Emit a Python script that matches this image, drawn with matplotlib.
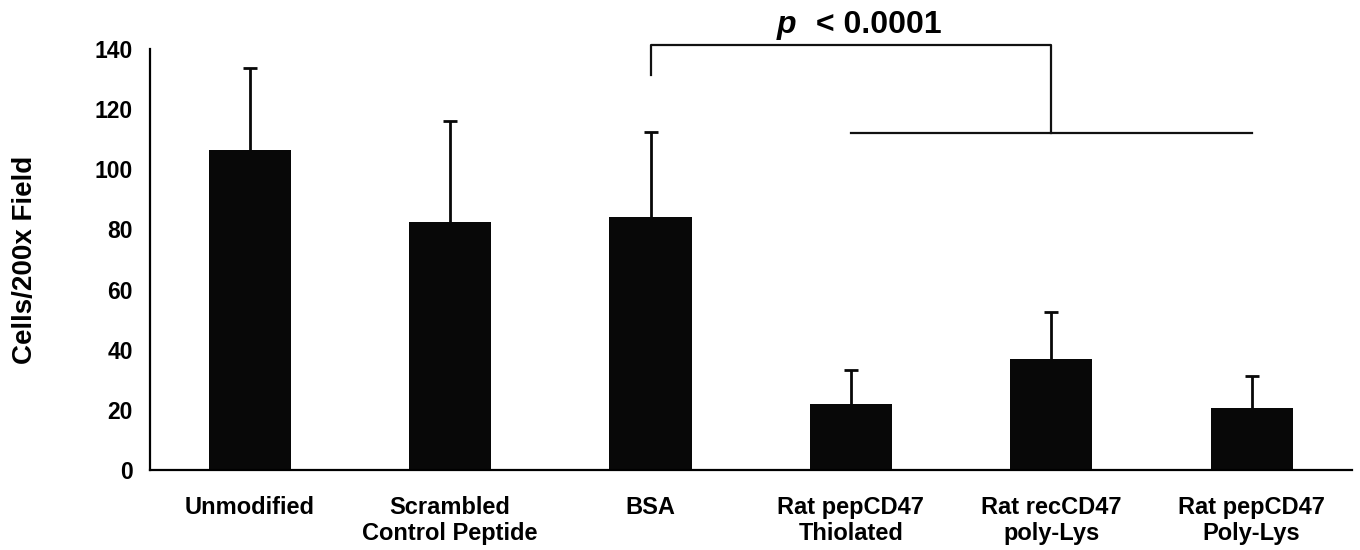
import matplotlib
matplotlib.use("Agg")
import matplotlib.pyplot as plt
import numpy as np

plt.rcParams['font.family'] = ['Liberation Sans', 'DejaVu Sans']
plt.rcParams['font.weight'] = 'bold'

# data
groups = ["Unmodified", "Scrambled\nControl Peptide", "BSA",
          "Rat pepCD47\nThiolated", "Rat recCD47\npoly-Lys", "Rat pepCD47\nPoly-Lys"]
cells = [106.4, 82.5, 84.1, 21.9, 36.9, 20.6]
sd = [27.3, 33.6, 28.3, 11.4, 15.6, 10.7]
yticks = [0, 20, 40, 60, 80, 100, 120, 140]

fig = plt.figure(figsize=(13.6, 5.5), dpi=100)
ax = fig.add_axes([0.110, 0.1455, 0.884, 0.7655])

x = np.arange(len(groups))
ax.bar(x, cells, width=0.41, color="#080808", zorder=2)
# only the upper half of the error bar is drawn
eb = ax.errorbar(x, cells, yerr=[np.zeros(len(sd)), sd], fmt="none",
                 ecolor="#080808", elinewidth=2, capsize=5, capthick=2, zorder=1)
eb[1][0].set_visible(False)  # lower caps

ax.set_xlim(-0.5, 5.5)
ax.set_ylim(0, 140)
ax.set_yticks(yticks)
ax.set_xticks(x)
ax.set_xticklabels(groups, fontsize=17, fontweight="bold", linespacing=1.15)
ax.tick_params(axis="y", length=0, pad=12, labelsize=16.5)
ax.tick_params(axis="x", length=0, pad=19)
for lab in ax.get_yticklabels():
    lab.set_fontweight("bold")

ax.spines["top"].set_visible(False)
ax.spines["right"].set_visible(False)
ax.spines["left"].set_linewidth(1.6)
ax.spines["bottom"].set_linewidth(1.6)

ax.set_ylabel("Cells/200x Field", fontsize=20, fontweight="bold", labelpad=41)

# significance bracket
kw = dict(color="#111111", lw=1.6, clip_on=False)
ax.plot([2, 2, 4, 4], [131.4, 141.3, 141.3, 112.1], **kw)
ax.plot([3, 5], [112.1, 112.1], **kw)
ax.text(2.63, 148, "p", fontsize=23, fontweight="bold", style="italic",
        ha="left", va="center")
ax.text(2.78, 148, " < 0.0001", fontsize=23, fontweight="bold",
        ha="left", va="center")

fig.savefig("out.png", dpi=100)
